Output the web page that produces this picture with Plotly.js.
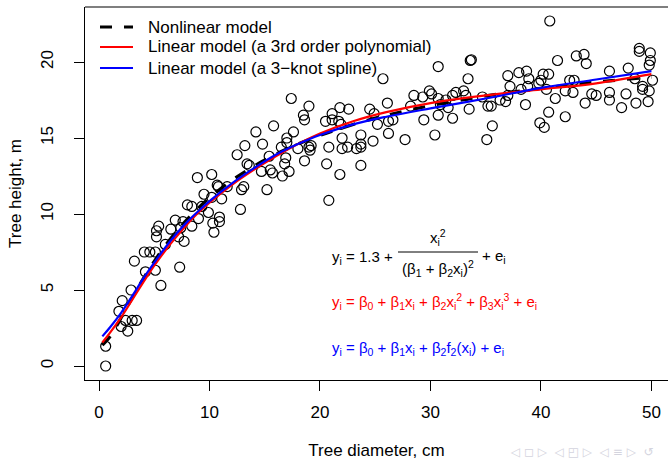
<!DOCTYPE html>
<html>
<head>
<meta charset="utf-8">
<script src="https://cdn.plot.ly/plotly-3.0.1.min.js"></script>
<style>html,body{margin:0;padding:0;background:#fff;}#chart{width:668px;height:460px;}</style>
</head>
<body>
<div id="chart"></div>
<script>
// Observed trees: diameter (cm) and height (m)
var diameter = [
0.6,0.6,2.6,2.0,2.4,3.0,3.4,1.8,2.1,2.9,5.6,4.2,5.1,7.3,3.2,4.1,4.6,5.1,6.0,5.2,5.2,5.4,6.5,6.9,7.2,7.7,7.6,7.4,8.4,8.0,8.4,9.5,9.0,9.3,9.9,10.3,10.4,10.2,
10.9,10.9,12.8,8.9,10.2,10.7,10.8,11.1,11.6,12.9,13.1,15.2,14.7,15.5,15.7,16.6,17.2,13.4,13.6,12.5,13.2,14.2,14.8,15.4,15.8,16.9,16.8,16.5,17.0,17.0,17.6,18.0,18.6,19.0,19.2,19.1,18.5,18.6,19.0,17.4,20.5,20.8,20.6,20.8,
21.8,23.7,22.0,22.5,23.3,23.7,23.7,23.7,22.0,24.8,26.2,27.7,30.4,29.4,26.6,26.2,25.2,21.1,21.7,21.9,21.1,21.8,22.6,24.5,24.9,26.1,28.2,28.5,29.3,29.9,30.1,30.7,25.7,30.7,30.7,
33.6,33.7,33.4,31.4,32.0,32.3,33.0,33.2,31.6,30.9,33.5,32.0,34.7,35.2,35.5,36.3,36.8,37.0,37.2,37.0,38.0,38.7,38.9,38.8,38.2,38.6,35.6,35.1,39.9,40.3,40.7,39.8,40.0,40.2,40.7,40.5,
40.8,41.5,43.2,43.9,44.1,42.6,43.0,42.2,42.9,41.3,44.0,44.6,45.0,46.2,46.2,46.2,47.7,47.3,47.9,48.5,48.6,42.2,48.9,48.9,49.9,49.9,49.8,50.1,49.2,49.2,49.8,49.7
];
var height = [
0.0,1.3,2.3,2.6,3.0,3.0,3.0,3.6,4.3,5.0,5.3,6.2,6.3,6.5,6.9,7.5,7.5,7.5,8.0,8.5,8.9,9.2,9.0,9.6,8.5,8.2,9.5,9.1,9.2,10.6,10.5,11.3,9.7,10.5,10.1,9.4,8.8,11.1,
9.5,9.8,10.3,12.4,12.6,11.9,11.8,11.0,11.8,11.6,11.8,11.6,12.8,12.9,12.7,12.5,12.8,13.3,13.2,13.9,14.5,15.4,14.6,13.8,15.8,13.7,13.3,14.4,15.0,14.7,15.4,14.3,13.5,14.4,14.5,14.2,16.5,16.2,17.1,17.6,16.1,14.4,13.3,10.9,
12.6,13.2,14.3,14.4,14.3,14.4,14.6,15.2,15.0,14.8,15.3,14.9,15.2,16.2,16.2,16.1,15.9,16.2,16.1,15.9,16.6,17.0,16.9,16.9,16.6,17.3,17.1,17.8,17.7,18.1,17.9,17.6,18.9,19.7,16.5,
20.1,20.15,18.9,17.5,17.8,18.0,18.1,17.8,17.0,17.2,16.9,16.3,17.7,17.1,17.1,17.5,17.4,17.8,18.4,19.1,19.3,19.4,18.9,18.4,18.2,17.2,15.8,14.9,16.0,15.7,16.7,18.6,18.8,19.2,19.2,18.2,
22.7,20.1,20.4,20.5,19.9,18.8,18.8,18.1,18.0,17.6,17.3,17.9,17.8,19.4,18.0,17.5,17.9,17.0,19.6,18.9,17.3,16.4,20.9,20.7,20.6,20.1,19.8,18.8,18.4,18.2,18.1,17.4
];

// Fitted curves at these diameters
var curveX      = [0.3, 1, 2, 3, 4, 5, 6, 7, 8, 9, 10, 12, 14, 16, 18, 20, 23, 26, 30, 35, 40, 45, 50];
var nonlinearY  = [1.37, 1.94, 3.17, 4.49, 5.74, 6.89, 7.92, 8.84, 9.66, 10.4, 11.07, 12.2, 13.14, 13.93, 14.6, 15.17, 15.89, 16.49, 17.13, 17.77, 18.27, 18.68, 19.0];
var polynomialY = [1.55, 2.2, 3.2, 4.35, 5.5, 6.6, 7.6, 8.5, 9.35, 10.1, 10.75, 11.9, 12.9, 13.8, 14.6, 15.3, 16.1, 16.7, 17.3, 17.8, 18.2, 18.6, 19.2];
var splineY     = [1.95, 2.55, 3.5, 4.6, 5.75, 6.8, 7.8, 8.7, 9.5, 10.2, 10.85, 12.0, 13.0, 13.9, 14.6, 15.2, 15.9, 16.4, 16.95, 17.6, 18.3, 18.85, 19.4];

var seriesNames = ["Nonlinear model", "Linear model (a 3rd order polynomial)", "Linear model (a 3\u2212knot spline)"];
var seriesColors = ["#000000", "#FF0000", "#0000FF"];
var xTicks = [0, 10, 20, 30, 40, 50];
var yTicks = [0, 5, 10, 15, 20];

var FONT = "Liberation Sans, Arial, Helvetica, sans-serif";
var L = 85, R = 668, T = 7, B = 380;
function px(x){ return (x - L) / (R - L); }
function py(y){ return (B - y) / (B - T); }

var traces = [
  {x: diameter, y: height, type: "scatter", mode: "markers", showlegend: false,
   marker: {symbol: "circle-open", size: 10, color: "#000", line: {width: 1.2, color: "#000"}}, hoverinfo: "skip"},
  {x: curveX, y: nonlinearY, type: "scatter", mode: "lines", name: seriesNames[0], showlegend: false,
   line: {color: seriesColors[0], width: 3.2, dash: "12px,12px", shape: "spline", smoothing: 1}},
  {x: curveX, y: polynomialY, type: "scatter", mode: "lines", name: seriesNames[1], showlegend: false,
   line: {color: seriesColors[1], width: 2.2, shape: "spline", smoothing: 1}},
  {x: curveX, y: splineY, type: "scatter", mode: "lines", name: seriesNames[2], showlegend: false,
   line: {color: seriesColors[2], width: 2.2, shape: "spline", smoothing: 1}}
];

var eqFont = {family: FONT, size: 15, color: "#000"};
var annotations = [
  {xref: "paper", yref: "paper", x: px(330), y: py(257), xanchor: "left", yanchor: "middle", showarrow: false,
   text: "y<sub>i</sub> = 1.3 +", font: eqFont},
  {xref: "paper", yref: "paper", x: px(438), y: py(237), xanchor: "center", yanchor: "middle", showarrow: false,
   text: "x<sub>i</sub><sup>2</sup>", font: eqFont},
  {xref: "paper", yref: "paper", x: px(438), y: py(268), xanchor: "center", yanchor: "middle", showarrow: false,
   text: "(β<sub>1</sub> + β<sub>2</sub>x<sub>i</sub>)<sup>2</sup>", font: eqFont},
  {xref: "paper", yref: "paper", x: px(480), y: py(256), xanchor: "left", yanchor: "middle", showarrow: false,
   text: "+ e<sub>i</sub>", font: eqFont},
  {xref: "paper", yref: "paper", x: px(330), y: py(301), xanchor: "left", yanchor: "middle", showarrow: false,
   text: "y<sub>i</sub> = β<sub>0</sub> + β<sub>1</sub>x<sub>i</sub> + β<sub>2</sub>x<sub>i</sub><sup>2</sup> + β<sub>3</sub>x<sub>i</sub><sup>3</sup> + e<sub>i</sub>",
   font: {family: FONT, size: 15, color: "#FF0000"}},
  {xref: "paper", yref: "paper", x: px(330), y: py(348), xanchor: "left", yanchor: "middle", showarrow: false,
   text: "y<sub>i</sub> = β<sub>0</sub> + β<sub>1</sub>x<sub>i</sub> + β<sub>2</sub>f<sub>2</sub>(x<sub>i</sub>) + e<sub>i</sub>",
   font: {family: FONT, size: 15, color: "#0000FF"}},
  {xref: "paper", yref: "paper", x: px(508), y: py(452), xanchor: "left", yanchor: "middle", showarrow: false,
   text: "◁ ◻ ▷  ◁ ◰ ▷  ◁ ≡ ▷  ↺", font: {family: "DejaVu Sans", size: 12, color: "#d4d4de"}}
];

var shapes = [
  {type: "line", xref: "paper", yref: "paper", x0: 0, x1: 1.01, y0: 1, y1: 1, line: {color: "#000", width: 1.2}},
  {type: "line", xref: "paper", yref: "paper", x0: px(398), x1: px(478), y0: py(252), y1: py(252), line: {color: "#000", width: 1}}
];

// Legend drawn as key lines + labels (R style, no box)
var legendRows = [27, 47, 68];
for (var i = 0; i < 3; i++) {
  shapes.push({type: "line", xref: "paper", yref: "paper", x0: px(100), x1: px(133), y0: py(legendRows[i]), y1: py(legendRows[i]),
    line: {color: seriesColors[i], width: i === 0 ? 3.2 : 2.2, dash: i === 0 ? "12px,12px" : "solid"}});
  annotations.push({xref: "paper", yref: "paper", x: px(146), y: py(legendRows[i]), xanchor: "left", yanchor: "middle",
    showarrow: false, text: seriesNames[i], font: {family: FONT, size: 17, color: "#000"}});
}

var layout = {
  width: 668, height: 460,
  margin: {l: L, r: 668 - R, t: T, b: 460 - B, pad: 0},
  paper_bgcolor: "#fff", plot_bgcolor: "#fff",
  font: {family: FONT, size: 17, color: "#000"},
  showlegend: false,
  xaxis: {range: [-1.27, 51.5], tickvals: xTicks, ticktext: xTicks.map(String), ticks: "outside", ticklen: 10,
          tickwidth: 1, tickcolor: "#000", showgrid: false, zeroline: false, showline: true, linecolor: "#000", linewidth: 1.2,
          ticklabelstandoff: 6,
          title: {text: "Tree diameter, cm", font: {family: FONT, size: 17}, standoff: 26}},
  yaxis: {range: [-0.92, 23.62], tickvals: yTicks, ticktext: yTicks.map(String), ticks: "outside", ticklen: 10,
          tickwidth: 1, tickcolor: "#000", tickangle: -90, showgrid: false, zeroline: false, showline: true, linecolor: "#000", linewidth: 1.2,
          ticklabelstandoff: 14,
          title: {text: "Tree height, m", font: {family: FONT, size: 17}, standoff: 12}},
  shapes: shapes,
  annotations: annotations
};

Plotly.newPlot("chart", traces, layout, {displayModeBar: false, staticPlot: true});
</script>
</body>
</html>
